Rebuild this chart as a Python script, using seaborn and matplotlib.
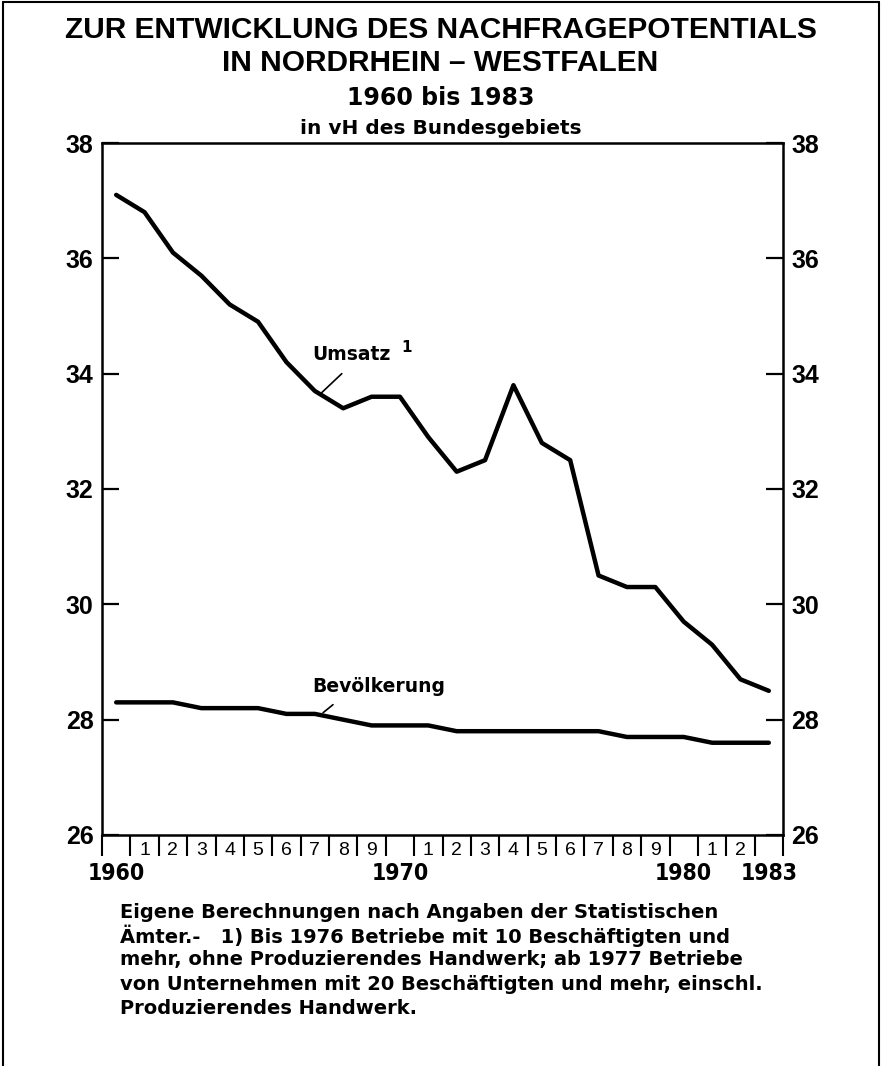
import numpy as np
import pandas as pd
import matplotlib
matplotlib.use('Agg')
import matplotlib.pyplot as plt
import matplotlib.transforms as mtransforms
from matplotlib.lines import Line2D
import seaborn as sns

# data (in vH des Bundesgebiets)
years = list(range(1960, 1984))
umsatz = [37.1, 36.8, 36.1, 35.7, 35.2, 34.9, 34.2, 33.7, 33.4, 33.6, 33.6, 32.9,
          32.3, 32.5, 33.8, 32.8, 32.5, 30.5, 30.3, 30.3, 29.7, 29.3, 28.7, 28.5]
bevoelkerung = [28.3, 28.3, 28.3, 28.2, 28.2, 28.2, 28.1, 28.1, 28.0, 27.9, 27.9, 27.9,
                27.8, 27.8, 27.8, 27.8, 27.8, 27.8, 27.7, 27.7, 27.7, 27.6, 27.6, 27.6]
y_ticks = [26, 28, 30, 32, 34, 36, 38]
decade_years = [1960, 1970, 1980, 1983]
cell_labels = ['' if y % 10 == 0 or y == 1983 else str(y % 10) for y in years]

footnote = ["Eigene Berechnungen nach Angaben der Statistischen",
            "Ämter.-   1) Bis 1976 Betriebe mit 10 Beschäftigten und",
            "mehr, ohne Produzierendes Handwerk; ab 1977 Betriebe",
            "von Unternehmen mit 20 Beschäftigten und mehr, einschl.",
            "Produzierendes Handwerk."]

df = pd.DataFrame({'Jahr': years * 2,
                   'Wert': umsatz + bevoelkerung,
                   'Reihe': ['Umsatz'] * len(years) + ['Bevölkerung'] * len(years)})

sns.set_style("white")
plt.rcParams['font.family'] = ['Liberation Sans', 'DejaVu Sans']
plt.rcParams['text.color'] = 'black'
plt.rcParams['xtick.color'] = 'black'
plt.rcParams['ytick.color'] = 'black'

fig = plt.figure(figsize=(8.81, 10.66), dpi=100)
ax = fig.add_axes([102 / 881, 1 - 835 / 1066, 681 / 881, 692 / 1066])

sns.lineplot(data=df, x='Jahr', y='Wert', hue='Reihe', palette=['black', 'black'],
             linewidth=3.2, legend=False, ax=ax)

ax.set_xlim(1959.5, 1983.5)
ax.set_ylim(26, 38)
ax.set_xlabel('')
ax.set_ylabel('')

for s in ax.spines.values():
    s.set_linewidth(1.8)
    s.set_color('black')

# y axis: ticks inside, labels on both sides
ax.set_yticks(y_ticks)
ax.set_yticklabels([str(v) for v in y_ticks])
ax.tick_params(axis='y', direction='in', length=12, width=1.6, left=True, right=True,
               labelleft=True, labelright=True, labelsize=18, pad=6)
for lab in ax.get_yticklabels():
    lab.set_fontweight('bold')

# x axis: cell boundaries as ticks, year digits in the cells
ax.set_xticks(years)
ax.set_xticklabels(cell_labels)
ax.set_xticks(np.arange(1959.5, 1984, 1), minor=True)
ax.tick_params(axis='x', which='major', length=0, labelsize=14, pad=5)
ax.tick_params(axis='x', which='minor', direction='out', length=15, width=1.5, bottom=True)

trans = mtransforms.blended_transform_factory(ax.transData, ax.transAxes)
for yr in decade_years:
    ax.text(yr, -0.055, str(yr), transform=trans, ha='center', va='center',
            fontsize=16.5, fontweight='bold', family=['DejaVu Sans'], fontstretch='condensed')

# series labels with leader lines
ax.text(1966.9, 34.24, "Umsatz", fontsize=13.5, fontweight='bold', ha='left', va='baseline',
        family=['DejaVu Sans'])
ax.text(1970.05, 34.38, "1", fontsize=11, fontweight='bold', ha='left', va='baseline',
        family=['DejaVu Sans'])
ax.annotate('', xy=(1967.24, 33.67), xytext=(1967.95, 34.0),
            arrowprops=dict(arrowstyle='-', color='black', lw=1.2, shrinkA=0, shrinkB=0))
ax.text(1966.9, 28.48, "Bevölkerung", fontsize=13.5, fontweight='bold', ha='left',
        va='baseline', family=['DejaVu Sans'])
ax.annotate('', xy=(1967.29, 28.12), xytext=(1967.64, 28.26),
            arrowprops=dict(arrowstyle='-', color='black', lw=1.2, shrinkA=0, shrinkB=0))

# titles
fig.text(0.5, 1 - 30 / 1066, "ZUR ENTWICKLUNG DES NACHFRAGEPOTENTIALS", ha='center',
         va='center', fontsize=21.5, fontweight='bold')
fig.text(0.5, 1 - 63 / 1066, "IN NORDRHEIN – WESTFALEN", ha='center', va='center',
         fontsize=21.5, fontweight='bold')
fig.text(0.5, 1 - 98 / 1066, "1960 bis 1983", ha='center', va='center', fontsize=17,
         fontweight='bold', family=['DejaVu Sans'])
fig.text(0.5, 1 - 129 / 1066, "in vH des Bundesgebiets", ha='center', va='center',
         fontsize=14.5, fontweight='bold', family=['DejaVu Sans'])

# footnote
for i, line in enumerate(footnote):
    fig.text(120 / 881, 1 - (912 + 24 * i) / 1066, line, ha='left', va='center',
             fontsize=14, fontweight='bold', family=['DejaVu Sans'])

# outer frame
for xs, ys in [([3 / 881, 3 / 881], [0, 1 - 2 / 1066]),
               ([879 / 881, 879 / 881], [0, 1 - 2 / 1066]),
               ([3 / 881, 879 / 881], [1 - 2 / 1066, 1 - 2 / 1066])]:
    fig.add_artist(Line2D(xs, ys, transform=fig.transFigure, color='black', lw=1.5))

fig.savefig('out.png', dpi=100, facecolor='white')
